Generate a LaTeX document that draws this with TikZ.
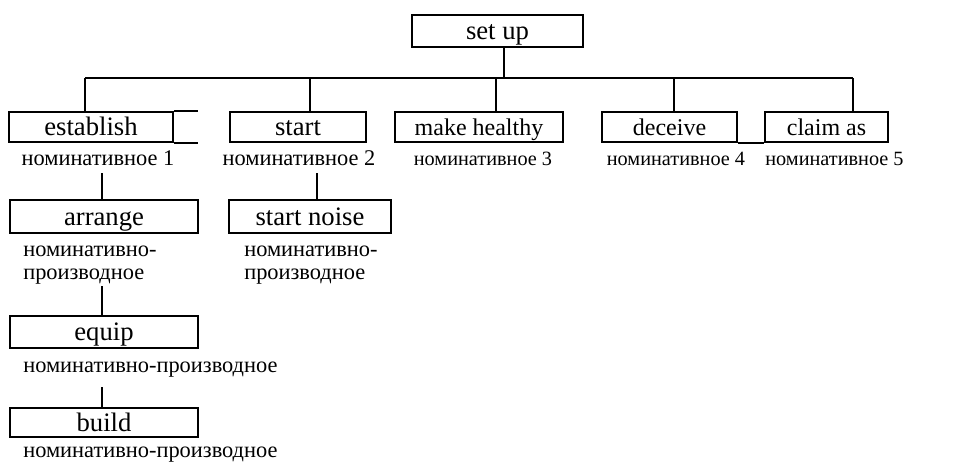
\documentclass[tikz,border=0pt]{standalone}
\usepackage{fontspec}
\setmainfont{Liberation Serif}
\usetikzlibrary{positioning}

\tikzset{
  box/.style={draw, line width=1.3pt, inner sep=0pt, minimum height=23pt,
    text height=14pt, text depth=1pt, font=\fontsize{20}{22}\selectfont},
  smallbox/.style={box, font=\fontsize{18}{20}\selectfont},
  lab/.style={inner sep=0pt, font=\fontsize{16.8}{17}\selectfont},
  smalllab/.style={lab, font=\fontsize{15.2}{17}\selectfont},
  link/.style={line width=1.3pt}
}

\begin{document}
\begin{tikzpicture}[x=0.75pt, y=-0.75pt]
  \useasboundingbox (0,0) rectangle (957,464);

  \node[box, minimum width=128pt, minimum height=24pt] (setup) at (497.5,31) {set up};

  \node[box, minimum width=123pt] (establish) at (91,127) {establish};
  \node[box, minimum width=102pt] (start) at (298,127) {start};
  \node[smallbox, minimum width=126pt] (healthy) at (479,127) {make healthy};
  \node[smallbox, minimum width=101pt] (deceive) at (669.5,127) {deceive};
  \node[smallbox, minimum width=92pt] (claim) at (826.5,127) {claim as};

  \node[lab, anchor=base] (nom1) at (98,165) {номинативное 1};
  \node[lab, anchor=base] (nom2) at (299,165) {номинативное 2};
  \node[smalllab, anchor=base] (nom3) at (483,165) {номинативное 3};
  \node[smalllab, anchor=base] (nom4) at (676,165) {номинативное 4};
  \node[smalllab, anchor=base] (nom5) at (834.5,165) {номинативное 5};

  \node[box, minimum width=141pt, minimum height=25pt] (arrange) at (104,216.5) {arrange};
  \node[box, minimum width=121.5pt, minimum height=25pt] (noise) at (310,216.5) {start noise};
  \node[lab, anchor=west, align=left] (deriv1) at (23,265) {номинативно-\\производное};
  \node[lab, anchor=west, align=left] (deriv2) at (244,265) {номинативно-\\производное};

  \node[box, minimum width=141pt, minimum height=24pt] (equip) at (104,332) {equip};
  \node[lab, anchor=base west] (deriv3) at (23,372) {номинативно-производное};

  \node[box, minimum width=141pt, minimum height=22pt] (build) at (104,422.5) {build};
  \node[lab, anchor=base west] (deriv4) at (23,457) {номинативно-производное};

  \coordinate (bus) at (504,78);
  \draw[line width=0.8pt] (setup.south -| bus) -- (bus);
  \draw[link] (85,78) coordinate (b1) -- (853,78) coordinate (b5);
  \draw[link] (b1) -- (b1 |- establish.north);
  \draw[link] (310,78) -- (310,0 |- start.north);
  \draw[link] (496,78) -- (496,0 |- healthy.north);
  \draw[link] (674,78) -- (674,0 |- deceive.north);
  \draw[link] (b5) -- (b5 |- claim.north);

  \draw[link] (establish.north east) -- ++(24,0);
  \draw[link] (establish.south east) -- ++(24,0);
  \draw[link] (deceive.south east) -- (claim.south west);

  \draw[link] (102,173) -- (102,0 |- arrange.north);
  \draw[link] (317,173) -- (317,0 |- noise.north);
  \draw[link] (102,286) -- (102,0 |- equip.north);
  \draw[link] (102,387) -- (102,0 |- build.north);
\end{tikzpicture}
\end{document}
